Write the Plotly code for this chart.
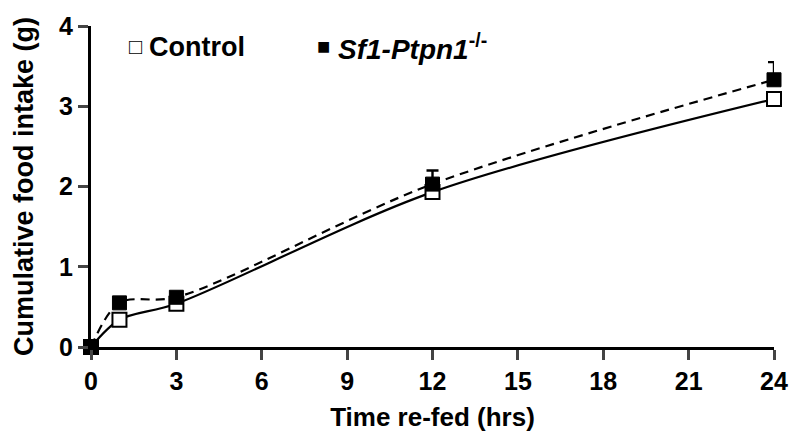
import plotly.graph_objects as go

hours = [0, 1, 3, 12, 24]
control = [0.0, 0.34, 0.54, 1.93, 3.09]
ko = [0.0, 0.55, 0.62, 2.03, 3.33]
ko_err = [0.02, 0.04, 0.04, 0.17, 0.22]
x_ticks = [0, 3, 6, 9, 12, 15, 18, 21, 24]
y_ticks = [0, 1, 2, 3, 4]

font = "Liberation Sans, Arial, sans-serif"

fig = go.Figure()
fig.add_trace(go.Scatter(
    x=hours, y=control, mode="lines+markers", name="Control",
    line=dict(color="black", width=2.2, shape="spline", smoothing=0.9),
    marker=dict(symbol="square", size=14, color="white", line=dict(color="black", width=2)),
    cliponaxis=False, showlegend=False))
fig.add_trace(go.Scatter(
    x=hours, y=ko, mode="lines+markers", name="Sf1-Ptpn1-/-",
    line=dict(color="black", width=2.2, dash="9px,6px", shape="spline", smoothing=0.9),
    marker=dict(symbol="square", size=14, color="black", line=dict(color="black", width=1)),
    error_y=dict(type="data", symmetric=False, array=ko_err, arrayminus=[0]*len(ko_err),
                 color="black", thickness=2.4, width=6),
    cliponaxis=False, showlegend=False))

leg_y = 0.935
fig.add_annotation(x=0.052, y=leg_y, xref="paper", yref="paper", xanchor="left", yanchor="middle",
                   text="\u25a1", showarrow=False, font=dict(family=font, size=22, color="black"))
fig.add_annotation(x=0.082, y=leg_y, xref="paper", yref="paper", xanchor="left", yanchor="middle",
                   text="<b>Control</b>", showarrow=False, font=dict(family=font, size=27, color="black"))
fig.add_annotation(x=0.328, y=leg_y, xref="paper", yref="paper", xanchor="left", yanchor="middle",
                   text="\u25a0", showarrow=False, font=dict(family=font, size=22, color="black"))
fig.add_annotation(x=0.358, y=leg_y, xref="paper", yref="paper", xanchor="left", yanchor="middle",
                   text="<b><i>Sf1-Ptpn1</i><sup>-/-</sup></b>", showarrow=False,
                   font=dict(family=font, size=28, color="black"))

fig.update_layout(
    width=800, height=439,
    margin=dict(l=91, r=17, t=19, b=88),
    paper_bgcolor="white", plot_bgcolor="white",
    xaxis=dict(range=[0, 24], tickvals=x_ticks, ticks="outside", ticklen=10, tickwidth=2.5,
               showline=True, linewidth=3, linecolor="black", showgrid=False, zeroline=False,
               tickfont=dict(family=font, size=25, color="black", weight="bold"),
               title=dict(text="Time re-fed (hrs)", standoff=14,
                          font=dict(family=font, size=26, color="black", weight="bold"))),
    yaxis=dict(range=[0, 4], tickvals=y_ticks, ticks="outside", ticklen=10, tickwidth=2.5,
               showline=True, linewidth=3, linecolor="black", showgrid=False, zeroline=False,
               tickfont=dict(family=font, size=25, color="black", weight="bold"),
               title=dict(text="Cumulative food intake (g)", standoff=18,
                          font=dict(family=font, size=27, color="black", weight="bold"))),
)
fig.write_html("out.html")
